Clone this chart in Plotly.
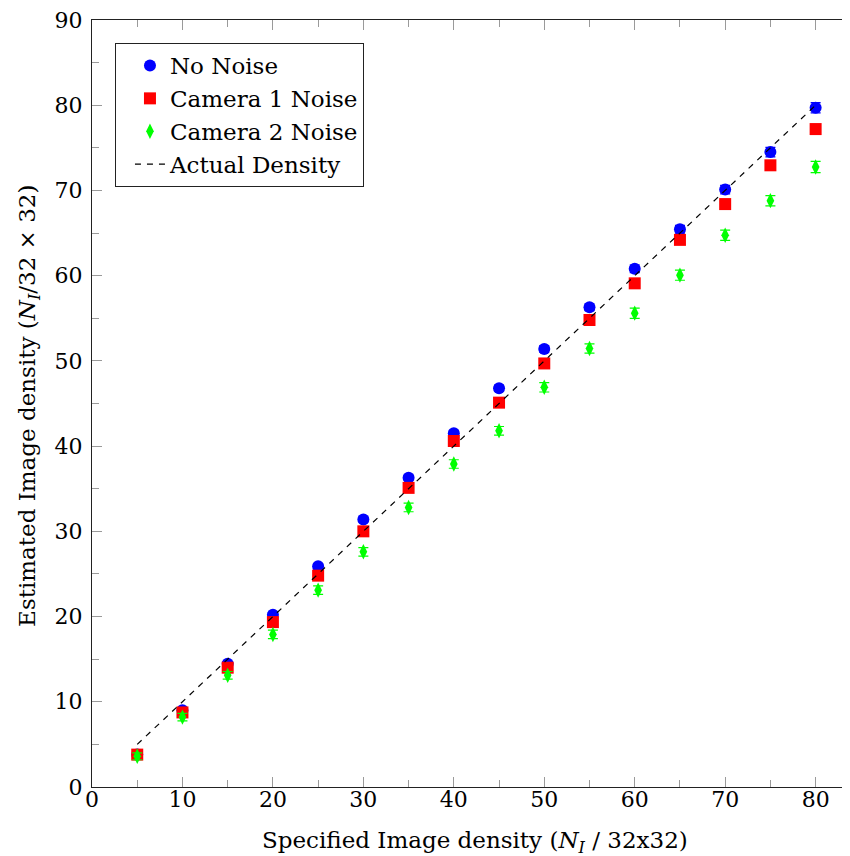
import plotly.graph_objects as go

x_vals = [5, 10, 15, 20, 25, 30, 35, 40, 45, 50, 55, 60, 65, 70, 75, 80]
no_noise = [3.8, 9.0, 14.45, 20.2, 25.9, 31.4, 36.3, 41.5, 46.8, 51.4, 56.3, 60.8, 65.45, 70.1, 74.5, 79.7]
no_noise_err = [0.2, 0.2, 0.25, 0.25, 0.3, 0.3, 0.3, 0.35, 0.35, 0.4, 0.4, 0.45, 0.45, 0.5, 0.55, 0.6]
cam1 = [3.8, 8.75, 14.0, 19.35, 24.8, 30.0, 35.1, 40.6, 45.1, 49.7, 54.8, 59.1, 64.2, 68.4, 72.95, 77.2]
cam1_err = [0.2, 0.2, 0.25, 0.25, 0.3, 0.3, 0.3, 0.35, 0.35, 0.4, 0.4, 0.45, 0.45, 0.5, 0.5, 0.55]
cam2 = [3.6, 8.2, 13.1, 17.9, 23.1, 27.6, 32.8, 37.9, 41.8, 46.9, 51.45, 55.6, 60.06, 64.75, 68.8, 72.75]
cam2_err = [0.4, 0.45, 0.45, 0.5, 0.5, 0.5, 0.5, 0.5, 0.5, 0.55, 0.55, 0.6, 0.6, 0.6, 0.6, 0.65]
actual_x = [5, 80]
actual_y = [5, 80]

FONT = "DejaVu Serif"
fs = 23
tfs = 22
TICKC = "#9a9a9a"

fig = go.Figure()
fig.add_trace(go.Scatter(
    x=x_vals, y=no_noise, mode="markers", name="No Noise",
    marker=dict(symbol="circle", size=12, color="#0000FF"),
    error_y=dict(type="data", array=no_noise_err, color="#0000FF", thickness=1.2, width=5),
))
fig.add_trace(go.Scatter(
    x=x_vals, y=cam1, mode="markers", name="Camera 1 Noise",
    marker=dict(symbol="square", size=12, color="#FF0000"),
    error_y=dict(type="data", array=cam1_err, color="#FF0000", thickness=1.2, width=5),
))
fig.add_trace(go.Scatter(
    x=x_vals, y=cam2, mode="markers", name="Camera 2 Noise",
    marker=dict(symbol="diamond-tall", size=11, color="#00FF00"),
    error_y=dict(type="data", array=cam2_err, color="#00FF00", thickness=1.2, width=5),
))
fig.add_trace(go.Scatter(
    x=actual_x, y=actual_y, mode="lines", name="Actual Density",
    line=dict(color="black", width=1.2, dash="6px,6px"),
))
# invisible trace for the top/right tick axes
fig.add_trace(go.Scatter(x=[None], y=[None], xaxis="x2", yaxis="y2", showlegend=False, hoverinfo="skip"))

XR = [0, 83.8]
YR = [0, 90]

# page body has an 8px margin, so the figure is sized/placed to compensate
fig.update_layout(
    width=842, height=848,
    margin=dict(l=84, r=0, t=12, b=69, autoexpand=False),
    plot_bgcolor="white", paper_bgcolor="white",
    font=dict(family=FONT, size=fs, color="black"),
    xaxis=dict(
        range=XR, tick0=0, dtick=10, automargin=False,
        showgrid=False, zeroline=False, showline=True, linecolor="#222222", linewidth=1.3,
        ticks="inside", ticklen=10, tickcolor=TICKC, tickwidth=1,
        minor=dict(ticks="inside", dtick=5, tick0=0, ticklen=7, tickcolor=TICKC, tickwidth=1, showgrid=False),
        tickfont=dict(family=FONT, size=tfs, color="black"),
        ticklabelstandoff=-8, ticklabeloverflow="allow",
    ),
    yaxis=dict(
        range=YR, tick0=0, dtick=10, automargin=False,
        showgrid=False, zeroline=False, showline=True, linecolor="#222222", linewidth=1.3,
        ticks="inside", ticklen=10, tickcolor=TICKC, tickwidth=1,
        minor=dict(ticks="inside", dtick=5, tick0=0, ticklen=7, tickcolor=TICKC, tickwidth=1, showgrid=False),
        tickfont=dict(family=FONT, size=tfs, color="black"),
        ticklabelstandoff=4, ticklabeloverflow="allow",
    ),
    xaxis2=dict(
        overlaying="x", side="top", range=XR, tick0=0, dtick=10, automargin=False,
        showticklabels=False, showgrid=False, zeroline=False,
        showline=True, linecolor="#222222", linewidth=1.3,
        ticks="inside", ticklen=10, tickcolor=TICKC, tickwidth=1,
        minor=dict(ticks="inside", dtick=5, tick0=0, ticklen=7, tickcolor=TICKC, tickwidth=1, showgrid=False),
    ),
    yaxis2=dict(
        overlaying="y", side="right", range=YR, tick0=0, dtick=10, automargin=False,
        showticklabels=False, showgrid=False, zeroline=False, showline=False,
        ticks="inside", ticklen=3, tickcolor=TICKC, tickwidth=1,
    ),
    showlegend=True,
    legend=dict(
        x=0.0303, y=0.970, xanchor="left", yanchor="top",
        bgcolor="white", bordercolor="#222222", borderwidth=1,
        font=dict(family=FONT, size=fs, color="black"),
        indentation=14,
    ),
    annotations=[
        dict(text="Specified Image density (<i>N<sub>I</sub></i> / 32x32)",
             xref="paper", yref="paper", x=0.505, y=-0.0715,
             xanchor="center", yanchor="middle", showarrow=False,
             font=dict(family=FONT, size=fs, color="black")),
        dict(text="Estimated Image density (<i>N<sub>I</sub></i>/32 × 32)",
             xref="paper", yref="paper", x=-0.083, y=0.497,
             xanchor="center", yanchor="middle", showarrow=False, textangle=-90,
             font=dict(family=FONT, size=fs, color="black")),
    ],
)

fig.write_html("out.html")
